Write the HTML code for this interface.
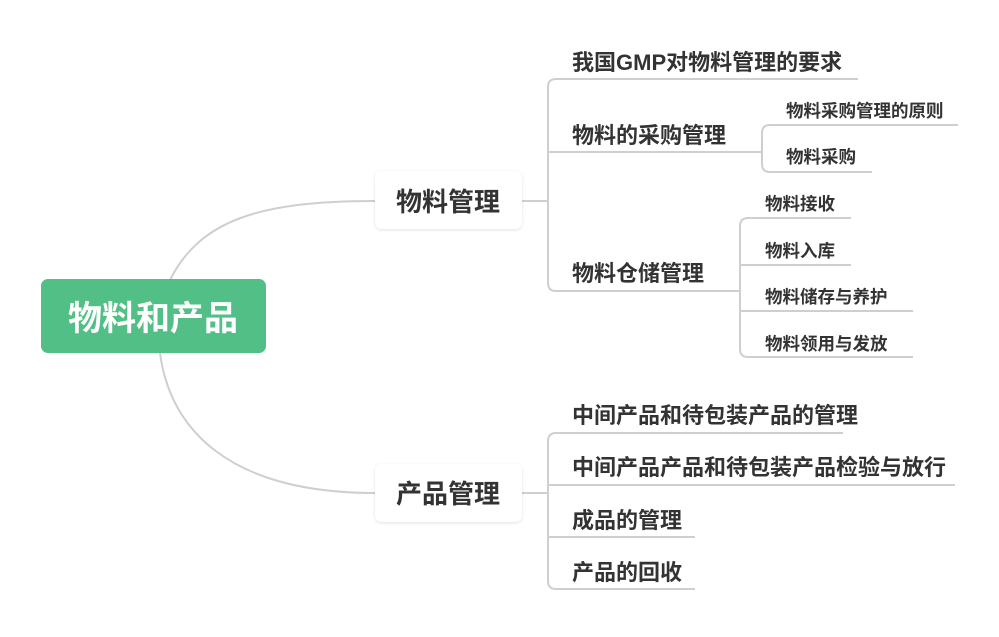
<!DOCTYPE html>
<html><head><meta charset="utf-8"><style>
html,body{margin:0;padding:0;background:#fff;}
svg text{font-family:"Liberation Sans","Noto Sans CJK SC",sans-serif;font-weight:bold;fill:#333;}
</style></head><body>
<svg width="999" height="632" viewBox="0 0 999 632" xmlns="http://www.w3.org/2000/svg">
<defs><filter id="sh" x="-10%" y="-20%" width="120%" height="150%"><feDropShadow dx="0" dy="1" stdDeviation="1.5" flood-color="#000" flood-opacity="0.12"/></filter></defs>
<g fill="none" stroke="#cfcfcf" stroke-width="2">
<path d="M170,280 C200,220 260,201 375,201"/>
<path d="M160,353 C170,430 230,493 375,493"/>
<path d="M522,201 H548"/>
<path d="M858,79 H556 Q548,79 548,87 V283 Q548,291 556,291 H740"/>
<path d="M548,152 H762"/>
<path d="M958,125 H770 Q762,125 762,133 V164 Q762,172 770,172 H872"/>
<path d="M851,218 H748 Q740,218 740,226 V349 Q740,357 748,357 H913"/>
<path d="M740,265 H851 M740,311 H913"/>
<path d="M522,493 H548"/>
<path d="M843,433 H556 Q548,433 548,441 V581 Q548,589 556,589 H695"/>
<path d="M548,485 H955 M548,537 H695"/>
</g>
<rect x="41" y="279" width="225" height="74" rx="7" fill="#52bf86"/>
<text x="153" y="330" font-size="34" text-anchor="middle" style="fill:#fff">物料和产品</text>
<rect x="375" y="171" width="147" height="58" rx="7" fill="#fff" filter="url(#sh)"/>
<text x="448" y="211" font-size="26" text-anchor="middle">物料管理</text>
<rect x="375" y="464" width="147" height="58" rx="7" fill="#fff" filter="url(#sh)"/>
<text x="448" y="503" font-size="26" text-anchor="middle">产品管理</text>
<g font-size="22">
<text x="572" y="70">我国GMP对物料管理的要求</text>
<text x="572" y="143">物料的采购管理</text>
<text x="572" y="281">物料仓储管理</text>
<text x="572" y="423">中间产品和待包装产品的管理</text>
<text x="572" y="475">中间产品产品和待包装产品检验与放行</text>
<text x="572" y="528">成品的管理</text>
<text x="572" y="580">产品的回收</text>
</g>
<g font-size="17.5">
<text x="786" y="117">物料采购管理的原则</text>
<text x="786" y="163">物料采购</text>
<text x="765" y="210">物料接收</text>
<text x="765" y="257">物料入库</text>
<text x="765" y="303">物料储存与养护</text>
<text x="765" y="350">物料领用与发放</text>
</g>
</svg>
</body></html>
